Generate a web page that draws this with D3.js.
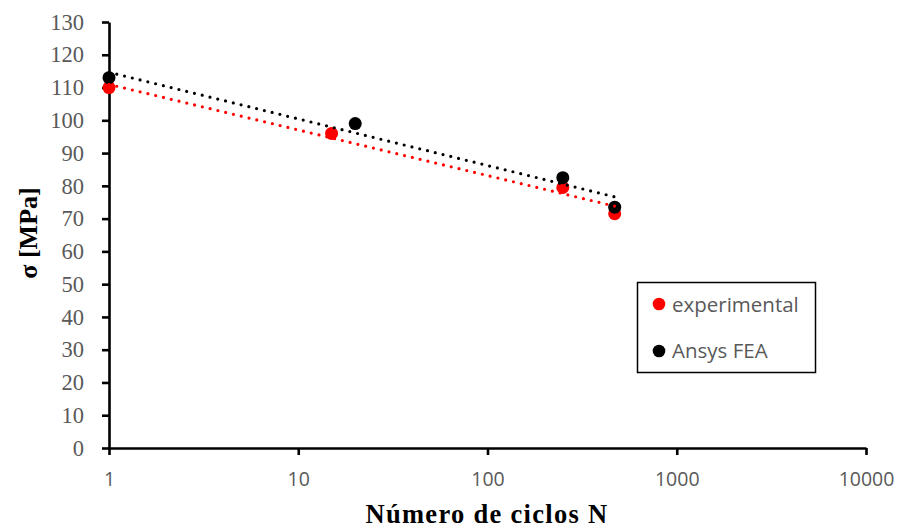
<!DOCTYPE html>
<html>
<head>
    <title>S-N curve</title>
    <script src="https://cdnjs.cloudflare.com/ajax/libs/d3/7.8.5/d3.min.js" charset="utf-8"></script>
    <style>
        body { margin: 0; background: #fff; }
    </style>
</head>
<body>
    <div id="graph"></div>
</body>
<script>
    var width = 899;
    var height = 531;

    // data
    var cycles = [1, 15, 250, 470];
    var experimental = [110, 96, 79.5, 71.5];
    var ansysCycles = [1, 20, 250, 470];
    var ansys = [113, 99, 82.5, 73.5];
    var yTicks = [0, 10, 20, 30, 40, 50, 60, 70, 80, 90, 100, 110, 120, 130];
    var xTicks = [1, 10, 100, 1000, 10000];

    var svg = d3.select("#graph").append("svg")
            .attr("width", width)
            .attr("height", height);

    var x = d3.scaleLog().domain([1, 10000]).range([109, 866]);
    var y = d3.scaleLinear().domain([0, 130]).range([448, 22]);

    // axes
    var yAxis = svg.append("g")
            .attr("transform", "translate(109,0)")
            .call(d3.axisLeft(y).tickValues(yTicks).tickSize(7).tickSizeOuter(0).tickPadding(18));
    yAxis.selectAll("text")
            .attr("fill", "#595959")
            .attr("font-family", "Liberation Serif")
            .attr("font-size", "22.5px");

    var xAxis = svg.append("g")
            .attr("transform", "translate(0,448)")
            .call(d3.axisBottom(x).tickValues(xTicks).tickFormat(d3.format("d")).tickSize(7).tickSizeOuter(0).tickPadding(17));
    xAxis.selectAll("text")
            .attr("fill", "#595959")
            .attr("font-family", "Open Sans")
            .attr("font-size", "19.5px");

    svg.selectAll(".domain, .tick line")
            .attr("stroke", "#000")
            .attr("stroke-width", 2.6);

    // axis titles
    svg.append("text")
            .attr("x", 487)
            .attr("y", 523)
            .attr("text-anchor", "middle")
            .attr("font-family", "Liberation Serif")
            .attr("font-weight", "bold")
            .attr("font-size", "26.5px")
            .attr("letter-spacing", "1.3px")
            .text("Número de ciclos N");

    svg.append("text")
            .attr("transform", "translate(37,233) rotate(-90)")
            .attr("text-anchor", "middle")
            .attr("font-family", "Liberation Serif")
            .attr("font-weight", "bold")
            .attr("font-size", "26px")
            .text("σ [MPa]");

    // least squares fit on log10(N), like the Excel log trendline
    function fit(xs, ys) {
        var lx = xs.map(function (d) { return Math.log10(d); });
        var mx = d3.mean(lx), my = d3.mean(ys);
        var sxy = 0, sxx = 0;
        for (var i = 0; i < lx.length; i++) {
            sxy += (lx[i] - mx) * (ys[i] - my);
            sxx += (lx[i] - mx) * (lx[i] - mx);
        }
        var b = sxy / sxx;
        var a = my - b * mx;
        var x0 = d3.min(xs), x1 = d3.max(xs);
        return [[x0, a + b * Math.log10(x0)], [x1, a + b * Math.log10(x1)]];
    }

    var series = [
        {name: "experimental", xs: cycles, ys: experimental, color: "#ff0000"},
        {name: "Ansys FEA", xs: ansysCycles, ys: ansys, color: "#000000"}
    ];

    var line = d3.line()
            .x(function (d) { return x(d[0]); })
            .y(function (d) { return y(d[1]); });

    series.forEach(function (s) {
        svg.append("g").selectAll("circle")
                .data(s.xs.map(function (d, i) { return [d, s.ys[i]]; }))
                .enter()
                .append("circle")
                .attr("cx", function (d) { return x(d[0]); })
                .attr("cy", function (d) { return y(d[1]); })
                .attr("r", 6.5)
                .attr("fill", s.color);
    });

    series.forEach(function (s) {
        svg.append("path")
                .datum(fit(s.xs, s.ys))
                .attr("d", line)
                .attr("fill", "none")
                .attr("stroke", s.color)
                .attr("stroke-width", 3.2)
                .attr("stroke-linecap", "round")
                .attr("stroke-dasharray", "0 8");
    });

    // legend
    var legend = svg.append("g");
    legend.append("rect")
            .attr("x", 637.5)
            .attr("y", 282.5)
            .attr("width", 178)
            .attr("height", 90)
            .attr("fill", "#fff")
            .attr("stroke", "#000")
            .attr("stroke-width", 1.5);

    series.forEach(function (s, i) {
        legend.append("circle")
                .attr("cx", 659)
                .attr("cy", 304 + i * 47)
                .attr("r", 6.3)
                .attr("fill", s.color);
        legend.append("text")
                .attr("x", 672)
                .attr("y", 312 + i * 46)
                .attr("fill", "#595959")
                .attr("font-family", "Open Sans")
                .attr("font-size", "20.5px")
                .text(s.name);
    });
</script>
</html>
